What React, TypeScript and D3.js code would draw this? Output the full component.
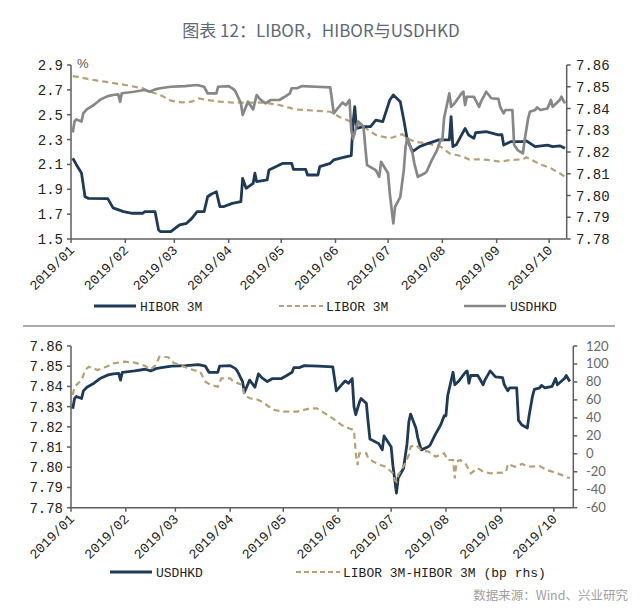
import React from "react";
import * as d3 from "d3";

const W = 640;
const H = 609;

const monthTickDates = ["2019-01-01", "2019-02-01", "2019-03-01", "2019-04-01", "2019-05-01", "2019-06-01", "2019-07-01", "2019-08-01", "2019-09-01", "2019-10-01"];
const monthTickLabels = ["2019/01", "2019/02", "2019/03", "2019/04", "2019/05", "2019/06", "2019/07", "2019/08", "2019/09", "2019/10"];

const rateTicks = [1.5, 1.7, 1.9, 2.1, 2.3, 2.5, 2.7, 2.9];
const fxTicks = [7.78, 7.79, 7.8, 7.81, 7.82, 7.83, 7.84, 7.85, 7.86];
const spreadTicks = [-60, -40, -20, 0, 20, 40, 60, 80, 100, 120];

const hiborDates = ["2019-01-02", "2019-01-04", "2019-01-07", "2019-01-09", "2019-01-11", "2019-01-22", "2019-01-25", "2019-01-31", "2019-02-05", "2019-02-11", "2019-02-12", "2019-02-18", "2019-02-20", "2019-02-21", "2019-02-27", "2019-03-04", "2019-03-08", "2019-03-11", "2019-03-14", "2019-03-18", "2019-03-20", "2019-03-22", "2019-03-25", "2019-03-27", "2019-03-29", "2019-04-03", "2019-04-08", "2019-04-09", "2019-04-11", "2019-04-15", "2019-04-16", "2019-04-17", "2019-04-23", "2019-04-24", "2019-05-02", "2019-05-07", "2019-05-08", "2019-05-15", "2019-05-16", "2019-05-22", "2019-05-23", "2019-05-29", "2019-05-31", "2019-06-05", "2019-06-10", "2019-06-11", "2019-06-12", "2019-06-13", "2019-06-17", "2019-06-21", "2019-06-24", "2019-06-28", "2019-07-02", "2019-07-04", "2019-07-08", "2019-07-10", "2019-07-12", "2019-07-15", "2019-07-19", "2019-07-24", "2019-07-30", "2019-08-05", "2019-08-06", "2019-08-07", "2019-08-09", "2019-08-14", "2019-08-16", "2019-08-19", "2019-08-20", "2019-08-26", "2019-09-02", "2019-09-04", "2019-09-05", "2019-09-09", "2019-09-16", "2019-09-18", "2019-09-23", "2019-09-30", "2019-10-03", "2019-10-07", "2019-10-10"];
const hiborValues = [2.15, 2.1, 2.03, 1.84, 1.827, 1.825, 1.75, 1.72, 1.707, 1.707, 1.72, 1.72, 1.572, 1.56, 1.559, 1.613, 1.626, 1.666, 1.72, 1.72, 1.84, 1.86, 1.88, 1.76, 1.76, 1.787, 1.8, 1.988, 1.908, 1.948, 2.029, 1.961, 1.975, 2.055, 2.109, 2.109, 2.06, 2.06, 2.015, 2.015, 2.082, 2.109, 2.136, 2.155, 2.17, 2.43, 2.565, 2.39, 2.404, 2.404, 2.457, 2.444, 2.618, 2.659, 2.605, 2.457, 2.297, 2.203, 2.243, 2.27, 2.297, 2.297, 2.484, 2.243, 2.26, 2.39, 2.337, 2.31, 2.355, 2.364, 2.337, 2.34, 2.256, 2.283, 2.283, 2.29, 2.243, 2.256, 2.243, 2.25, 2.23];

const liborDates = ["2019-01-02", "2019-01-09", "2019-01-16", "2019-01-24", "2019-02-01", "2019-02-11", "2019-02-15", "2019-02-21", "2019-02-27", "2019-03-05", "2019-03-11", "2019-03-15", "2019-03-20", "2019-03-27", "2019-04-04", "2019-04-22", "2019-04-30", "2019-05-09", "2019-05-21", "2019-05-29", "2019-06-03", "2019-06-10", "2019-06-17", "2019-06-24", "2019-07-02", "2019-07-08", "2019-07-09", "2019-07-12", "2019-07-16", "2019-07-23", "2019-07-31", "2019-08-05", "2019-08-09", "2019-08-13", "2019-08-16", "2019-08-22", "2019-08-27", "2019-09-03", "2019-09-09", "2019-09-16", "2019-09-18", "2019-09-23", "2019-09-27", "2019-10-02", "2019-10-07", "2019-10-10"];
const liborValues = [2.811, 2.793, 2.774, 2.758, 2.739, 2.712, 2.685, 2.659, 2.613, 2.6, 2.605, 2.632, 2.618, 2.605, 2.597, 2.597, 2.578, 2.543, 2.532, 2.524, 2.484, 2.444, 2.404, 2.337, 2.31, 2.337, 2.345, 2.31, 2.283, 2.27, 2.243, 2.19, 2.176, 2.162, 2.141, 2.141, 2.136, 2.122, 2.136, 2.141, 2.157, 2.122, 2.095, 2.069, 2.029, 2.001];

const usdhkdDates = ["2019-01-02", "2019-01-03", "2019-01-04", "2019-01-07", "2019-01-08", "2019-01-10", "2019-01-14", "2019-01-17", "2019-01-18", "2019-01-22", "2019-01-25", "2019-01-28", "2019-01-29", "2019-01-30", "2019-02-06", "2019-02-12", "2019-02-15", "2019-02-18", "2019-02-21", "2019-02-27", "2019-03-07", "2019-03-14", "2019-03-18", "2019-03-20", "2019-03-25", "2019-03-26", "2019-04-01", "2019-04-04", "2019-04-05", "2019-04-08", "2019-04-09", "2019-04-12", "2019-04-15", "2019-04-17", "2019-04-19", "2019-04-22", "2019-04-25", "2019-04-30", "2019-05-03", "2019-05-06", "2019-05-07", "2019-05-10", "2019-05-13", "2019-05-21", "2019-05-29", "2019-05-30", "2019-05-31", "2019-06-03", "2019-06-05", "2019-06-07", "2019-06-09", "2019-06-10", "2019-06-11", "2019-06-13", "2019-06-14", "2019-06-17", "2019-06-18", "2019-06-19", "2019-06-24", "2019-06-26", "2019-06-27", "2019-07-01", "2019-07-02", "2019-07-04", "2019-07-05", "2019-07-08", "2019-07-10", "2019-07-11", "2019-07-12", "2019-07-15", "2019-07-16", "2019-07-18", "2019-07-22", "2019-07-23", "2019-07-26", "2019-07-29", "2019-07-31", "2019-08-01", "2019-08-02", "2019-08-05", "2019-08-06", "2019-08-08", "2019-08-12", "2019-08-13", "2019-08-14", "2019-08-15", "2019-08-19", "2019-08-20", "2019-08-22", "2019-08-23", "2019-08-26", "2019-08-29", "2019-09-02", "2019-09-03", "2019-09-05", "2019-09-06", "2019-09-10", "2019-09-11", "2019-09-13", "2019-09-16", "2019-09-17", "2019-09-19", "2019-09-20", "2019-09-23", "2019-09-24", "2019-09-26", "2019-09-30", "2019-10-02", "2019-10-03", "2019-10-07", "2019-10-08", "2019-10-10"];
const usdhkdValues = [7.829, 7.834, 7.835, 7.834, 7.8378, 7.8396, 7.8416, 7.8436, 7.8442, 7.8457, 7.8462, 7.8465, 7.8431, 7.847, 7.8477, 7.8485, 7.8477, 7.8488, 7.8493, 7.85, 7.8503, 7.8508, 7.85, 7.847, 7.847, 7.85, 7.8503, 7.8488, 7.8477, 7.8424, 7.837, 7.8431, 7.8396, 7.8462, 7.8442, 7.8424, 7.8439, 7.8439, 7.8454, 7.847, 7.8493, 7.8493, 7.8503, 7.85, 7.8497, 7.8439, 7.8378, 7.8408, 7.8427, 7.8416, 7.8439, 7.83, 7.826, 7.832, 7.834, 7.8316, 7.8224, 7.814, 7.8117, 7.8086, 7.8155, 7.8102, 7.801, 7.7872, 7.7948, 7.7994, 7.8117, 7.8224, 7.8263, 7.8194, 7.8148, 7.8086, 7.8102, 7.8109, 7.8163, 7.8209, 7.8255, 7.8255, 7.8355, 7.847, 7.8408, 7.8424, 7.847, 7.8477, 7.8416, 7.8454, 7.8454, 7.8439, 7.8408, 7.8431, 7.8477, 7.8447, 7.8444, 7.8408, 7.8378, 7.8393, 7.8393, 7.8232, 7.8209, 7.8194, 7.8255, 7.8355, 7.8385, 7.8393, 7.8405, 7.8393, 7.84, 7.8439, 7.8408, 7.8439, 7.8454, 7.8424];

const spreadDates = ["2019-01-02", "2019-01-03", "2019-01-07", "2019-01-09", "2019-01-11", "2019-01-16", "2019-01-21", "2019-01-25", "2019-01-31", "2019-02-06", "2019-02-12", "2019-02-15", "2019-02-18", "2019-02-20", "2019-02-25", "2019-02-28", "2019-03-06", "2019-03-11", "2019-03-15", "2019-03-18", "2019-03-21", "2019-03-25", "2019-03-27", "2019-04-01", "2019-04-03", "2019-04-08", "2019-04-09", "2019-04-12", "2019-04-16", "2019-04-19", "2019-04-23", "2019-04-26", "2019-05-01", "2019-05-09", "2019-05-16", "2019-05-20", "2019-05-23", "2019-05-29", "2019-06-03", "2019-06-07", "2019-06-10", "2019-06-11", "2019-06-12", "2019-06-13", "2019-06-17", "2019-06-18", "2019-06-21", "2019-06-25", "2019-06-28", "2019-07-02", "2019-07-03", "2019-07-04", "2019-07-05", "2019-07-09", "2019-07-11", "2019-07-12", "2019-07-15", "2019-07-18", "2019-07-22", "2019-07-24", "2019-07-26", "2019-07-31", "2019-08-02", "2019-08-05", "2019-08-06", "2019-08-07", "2019-08-09", "2019-08-12", "2019-08-15", "2019-08-19", "2019-08-22", "2019-08-26", "2019-09-02", "2019-09-04", "2019-09-05", "2019-09-09", "2019-09-13", "2019-09-17", "2019-09-23", "2019-09-27", "2019-10-03", "2019-10-10"];
const spreadValues = [65.5, 74.7, 82, 93.3, 97, 93.3, 97, 100.7, 102.5, 101.5, 97.7, 94, 99, 108.1, 107.5, 101.4, 97, 93.3, 91.4, 80.3, 76.6, 74.7, 84, 84, 80.3, 76.6, 65.5, 61.8, 60.7, 58, 52.4, 48.8, 46.9, 46.9, 50.6, 50.6, 46.9, 39.5, 32, 28.4, 26.5, 0.5, -12.5, 0.5, 0.5, -5, -8.8, -12.5, -14.4, -21.7, -29.2, -31, -23.6, -10.6, -1.3, 7.9, 9.8, 4.2, 2.4, 0.5, -3.2, 0.5, -6.9, -6.9, -27.3, -8.8, -6.9, -10.6, -21.7, -16.1, -19.8, -21.7, -21, -19.8, -11.4, -14.4, -11.4, -14.4, -13.7, -18, -21.7, -27.3];

const parse = d3.timeParse("%Y-%m-%d");
const zip = (ds: string[], vs: number[]): [Date, number][] => ds.map((d, i) => [parse(d) as Date, vs[i]]);

const NAVY = "#1f3a56";
const GREY = "#878787";
const TAN = "#b3a277";
const AXIS = "#5e5e5e";
const MONO = "'Liberation Mono', 'DejaVu Sans Mono', monospace";

function XAxis({ x, y, left, right }: { x: d3.ScaleTime<number, number>; y: number; left: number; right: number }) {
  return (
    <g>
      <line x1={left} x2={right} y1={y} y2={y} stroke={AXIS} strokeWidth={1.5} />
      {monthTickDates.map((d, i) => {
        const px = x(parse(d) as Date);
        return (
          <g key={d}>
            <line x1={px} x2={px} y1={y} y2={y + 4} stroke={AXIS} strokeWidth={1.5} />
            <text
              transform={`translate(${px + 4},${y + 12}) rotate(-45)`}
              textAnchor="end"
              fontFamily={MONO}
              fontSize={13.5}
              fill="#222"
            >
              {monthTickLabels[i]}
            </text>
          </g>
        );
      })}
    </g>
  );
}

export default function App() {
  const hibor = zip(hiborDates, hiborValues);
  const libor = zip(liborDates, liborValues);
  const usdhkd = zip(usdhkdDates, usdhkdValues);
  const spread = zip(spreadDates, spreadValues);

  const xTop = d3.scaleTime().domain([parse("2019-01-01") as Date, parse("2019-10-11") as Date]).range([71, 566.7]);
  const yTopL = d3.scaleLinear().domain([1.5, 2.9]).range([239, 65]);
  const yTopR = d3.scaleLinear().domain([7.78, 7.86]).range([239, 65]);

  const xBot = d3.scaleTime().domain([parse("2019-01-01") as Date, parse("2019-10-12") as Date]).range([71, 573.3]);
  const yBotL = d3.scaleLinear().domain([7.78, 7.86]).range([507.7, 346]);
  const yBotR = d3.scaleLinear().domain([-60, 120]).range([507.7, 346]);

  const mk = (xs: d3.ScaleTime<number, number>, ys: d3.ScaleLinear<number, number>) =>
    d3.line<[Date, number]>().x((d) => xs(d[0])).y((d) => ys(d[1]));

  const topL = mk(xTop, yTopL);
  const topR = mk(xTop, yTopR);
  const botL = mk(xBot, yBotL);
  const botR = mk(xBot, yBotR);

  return (
    <div style={{ position: "absolute", left: 0, top: 0 }}>
      <svg width={W} height={H} style={{ display: "block", background: "#fff" }}>
        <text x={321} y={37} textAnchor="middle" fontFamily="'Noto Sans CJK SC', sans-serif" fontSize={17} fill="#5d6a76">
          图表 12：LIBOR，HIBOR与USDHKD
        </text>

        {/* ---------- top chart ---------- */}
        <text x={77} y={68} fontFamily="'Liberation Sans', sans-serif" fontSize={13} fill="#555">%</text>
        <line x1={71} x2={71} y1={65} y2={239} stroke={AXIS} strokeWidth={1.5} />
        {rateTicks.map((t) => (
          <g key={t}>
            <line x1={67} x2={71} y1={yTopL(t)} y2={yTopL(t)} stroke={AXIS} strokeWidth={1.5} />
            <text x={63} y={yTopL(t) + 5} textAnchor="end" fontFamily={MONO} fontSize={14} fill="#222">
              {t.toFixed(1)}
            </text>
          </g>
        ))}
        <line x1={566.7} x2={566.7} y1={65} y2={239} stroke={AXIS} strokeWidth={1.5} />
        {fxTicks.map((t) => (
          <g key={t}>
            <line x1={566.7} x2={570.7} y1={yTopR(t)} y2={yTopR(t)} stroke={AXIS} strokeWidth={1.5} />
            <text x={576} y={yTopR(t) + 5} fontFamily={MONO} fontSize={14} fill="#222">
              {t.toFixed(2)}
            </text>
          </g>
        ))}
        <XAxis x={xTop} y={239} left={71} right={566.7} />
        <path d={topL(libor) || ""} fill="none" stroke={TAN} strokeWidth={2.2} strokeDasharray="6,4" />
        <path d={topL(hibor) || ""} fill="none" stroke={NAVY} strokeWidth={2.8} strokeLinejoin="round" />
        <path d={topR(usdhkd) || ""} fill="none" stroke={GREY} strokeWidth={2.7} strokeLinejoin="round" />

        {/* legend top */}
        <line x1={94} x2={136} y1={306} y2={306} stroke={NAVY} strokeWidth={2.8} />
        <text x={140} y={310.5} fontFamily={MONO} fontSize={13} fill="#222">HIBOR 3M</text>
        <line x1={279} x2={323} y1={306} y2={306} stroke={TAN} strokeWidth={2} strokeDasharray="5,3" />
        <text x={326} y={310.5} fontFamily={MONO} fontSize={13} fill="#222">LIBOR 3M</text>
        <line x1={464} x2={506} y1={306} y2={306} stroke={GREY} strokeWidth={2.7} />
        <text x={510} y={310.5} fontFamily={MONO} fontSize={13} fill="#222">USDHKD</text>

        {/* separator */}
        <line x1={23} x2={615} y1={326} y2={326} stroke="#8f8f8f" strokeWidth={1.5} />

        {/* ---------- bottom chart ---------- */}
        <line x1={71} x2={71} y1={346} y2={507.7} stroke={AXIS} strokeWidth={1.5} />
        {fxTicks.map((t) => (
          <g key={t}>
            <line x1={67} x2={71} y1={yBotL(t)} y2={yBotL(t)} stroke={AXIS} strokeWidth={1.5} />
            <text x={63} y={yBotL(t) + 5} textAnchor="end" fontFamily={MONO} fontSize={14} fill="#222">
              {t.toFixed(2)}
            </text>
          </g>
        ))}
        <line x1={573.3} x2={573.3} y1={346} y2={507.7} stroke={AXIS} strokeWidth={1.5} />
        {spreadTicks.map((t) => (
          <g key={t}>
            <line x1={573.3} x2={577.3} y1={yBotR(t)} y2={yBotR(t)} stroke={AXIS} strokeWidth={1.5} />
            <text x={586} y={yBotR(t) + 4.5} fontFamily="Lato, sans-serif" fontSize={13} fill="#666">
              {t}
            </text>
          </g>
        ))}
        <XAxis x={xBot} y={507.7} left={71} right={573.3} />
        <path d={botL(usdhkd) || ""} fill="none" stroke={NAVY} strokeWidth={2.8} strokeLinejoin="round" />
        <path d={botR(spread) || ""} fill="none" stroke={TAN} strokeWidth={2.2} strokeDasharray="6,4" />

        {/* legend bottom */}
        <line x1={110} x2={152} y1={572} y2={572} stroke={NAVY} strokeWidth={2.8} />
        <text x={156} y={576.5} fontFamily={MONO} fontSize={13} fill="#222">USDHKD</text>
        <line x1={296} x2={340} y1={572} y2={572} stroke={TAN} strokeWidth={2} strokeDasharray="5,3" />
        <text x={343} y={576.5} fontFamily={MONO} fontSize={13} fill="#222">LIBOR 3M-HIBOR 3M (bp rhs)</text>

        <text x={628} y={600} textAnchor="end" fontFamily="'Noto Sans CJK SC', sans-serif" fontSize={12.5} fill="#a0a0a0">
          数据来源：Wind、兴业研究
        </text>
      </svg>
    </div>
  );
}
